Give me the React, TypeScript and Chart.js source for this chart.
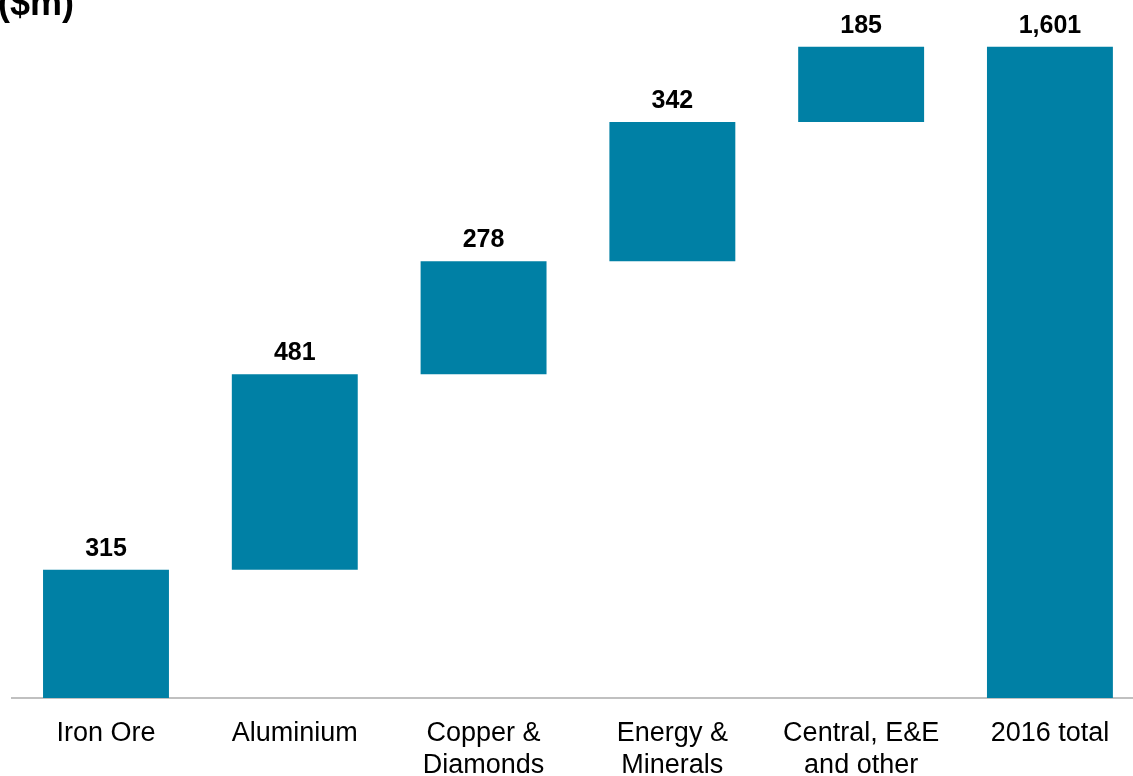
import React, { useEffect, useRef } from "react";
import { Chart, registerables } from "chart.js";

Chart.register(...registerables);

const categories: string[][] = [
  ["Iron Ore"],
  ["Aluminium"],
  ["Copper &", "Diamonds"],
  ["Energy &", "Minerals"],
  ["Central, E&E", "and other"],
  ["2016 total"],
];
const increments: number[] = [315, 481, 278, 342, 185];
const totalValue = 1601;
const unitTitle = "($m)";

const BAR_COLOR = "#0080A5";
const FONT = "'Liberation Sans', Arial, sans-serif";

export default function App() {
  const ref = useRef<HTMLCanvasElement | null>(null);

  useEffect(() => {
    if (!ref.current) return;
    // waterfall floating ranges
    const ranges: { x: number; y: [number, number]; v: number }[] = [];
    let run = 0;
    increments.forEach((v, i) => {
      ranges.push({ x: i, y: [run, run + v], v });
      run += v;
    });
    ranges.push({ x: increments.length, y: [0, totalValue], v: totalValue });

    const labelPlugin = {
      id: "wfLabels",
      afterDatasetsDraw(chart: any) {
        const ctx = chart.ctx;
        const meta = chart.getDatasetMeta(0);
        ctx.save();
        ctx.font = `bold 25px ${FONT}`;
        ctx.fillStyle = "#000";
        ctx.textAlign = "center";
        ctx.textBaseline = "alphabetic";
        meta.data.forEach((el: any, i: number) => {
          const top = Math.min(el.y, el.base);
          ctx.fillText(ranges[i].v.toLocaleString("en-US"), el.x, top - 14);
        });
        ctx.font = `bold 36px ${FONT}`;
        ctx.textAlign = "left";
        ctx.fillText(unitTitle, -2, 15);
        ctx.restore();
      },
    };

    const chart = new Chart(ref.current, {
      type: "bar",
      data: {
        datasets: [
          {
            data: ranges as any,
            backgroundColor: BAR_COLOR,
            borderWidth: 0,
            categoryPercentage: 1,
            barPercentage: 0.667,
          },
        ],
      },
      options: {
        animation: false,
        responsive: true,
        maintainAspectRatio: false,
        layout: { padding: { left: 11.6, right: 0, top: 0, bottom: 0 } },
        plugins: { legend: { display: false }, tooltip: { enabled: false } },
        scales: {
          x: {
            type: "linear",
            offset: false,
            min: -0.5,
            max: 5.44,
            grid: { display: false, drawTicks: false },
            border: { display: true, color: "#c0c0c0", width: 2 },
            afterBuildTicks: (axis: any) => {
              axis.ticks = categories.map((_, i) => ({ value: i }));
            },
            afterFit: (scale: any) => {
              scale.height = 78;
            },
            ticks: {
              autoSkip: false,
              maxRotation: 0,
              minRotation: 0,
              padding: 19,
              color: "#000",
              font: { family: FONT, size: 27, lineHeight: 1.2 },
              callback: (value: any) => categories[value as number] ?? "",
            },
          },
          y: {
            display: false,
            min: 0,
            max: 1716,
          },
        },
      },
      plugins: [labelPlugin],
    });
    return () => chart.destroy();
  }, []);

  return (
    <div style={{ position: "fixed", left: 0, top: 0, width: 1133, height: 776, background: "#fff" }}>
      <canvas ref={ref} />
    </div>
  );
}
